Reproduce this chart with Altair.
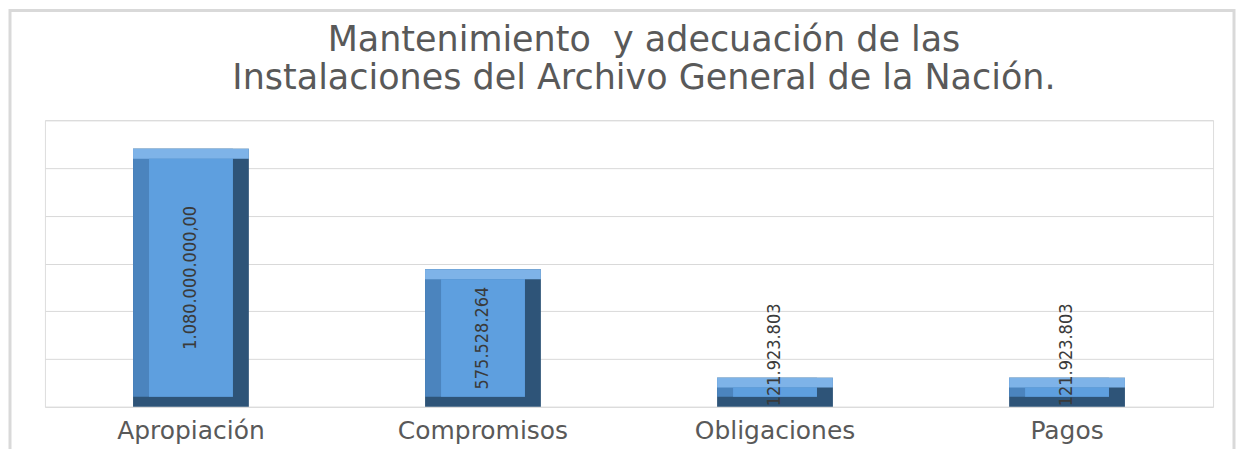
import altair as alt
import pandas as pd

categories = ["Apropiación", "Compromisos", "Obligaciones", "Pagos"]
values = [1080000000, 575528264, 121923803, 121923803]
value_labels = ["1.080.000.000,00", "575.528.264", "121.923.803", "121.923.803"]
title_lines = ["Mantenimiento\u00a0 y adecuación de las",
               "Instalaciones del Archivo General de la Nación."]
grid_ticks = [0, 200000000, 400000000, 600000000, 800000000, 1000000000, 1200000000]

df = pd.DataFrame({"cat": categories, "value": values, "label": value_labels})
# label centred in the bar, but kept readable for small bars
df["label_pos"] = [max(v / 2, 2.17e8) for v in values]

W, H = 1170, 287

x_enc = alt.X("cat:N", sort=categories, title=None,
              scale=alt.Scale(paddingInner=0.6, paddingOuter=0.3),
              axis=alt.Axis(domain=False, ticks=False, labelAngle=0,
                            labelFont="DejaVu Sans", labelFontSize=25,
                            labelColor="#595959", labelPadding=12))
y_scale = alt.Scale(domain=[0, 1200000000], nice=False)
y_enc = alt.Y("value:Q", title=None, scale=y_scale, stack=None,
              axis=alt.Axis(values=grid_ticks, labels=False, ticks=False,
                            domain=False, grid=True, gridColor="#D9D9D9",
                            gridWidth=1))

base = alt.Chart(df)
xs = alt.X("cat:N", sort=categories)
ys = alt.Y("value:Q", scale=y_scale, stack=None)
zero = alt.Y2(datum=0)

outer = base.mark_bar(size=116, color="#2E5478").encode(x=x_enc, y=y_enc, y2=zero)
left = base.mark_bar(size=100, xOffset=-8, y2Offset=-10, color="#4B84BE").encode(
    x=xs, y=ys, y2=zero)
top = base.mark_bar(size=116, y2Offset=10, color="#7EB3E8").encode(
    x=xs, y=ys, y2=alt.Y2("value:Q"))
face = base.mark_bar(size=84, yOffset=10, y2Offset=-10, color="#5E9FDF").encode(
    x=xs, y=ys, y2=zero)

labels = base.mark_text(angle=270, align="center", baseline="middle",
                        font="Liberation Sans Narrow, DejaVu Sans Condensed, Liberation Sans, sans-serif",
                        fontSize=18, color="#3A3A3A").encode(
    x=xs,
    y=alt.Y("label_pos:Q", scale=y_scale),
    text="label:N")

frame = alt.Chart(alt.Data(values=[{"f": 1}])).mark_rect(
    fillOpacity=0, stroke="#D9D9D9", strokeWidth=3).encode(
    x=alt.value(-35), x2=alt.value(1191), y=alt.value(-110), y2=alt.value(380))

chart = alt.layer(frame, outer, left, top, face, labels).properties(
    width=W, height=H,
    padding={"left": 0, "top": 0, "right": 5, "bottom": 0},
    title=alt.Title(title_lines, fontSize=35, font="DejaVu Sans",
                    fontWeight="normal", color="#595959", lineHeight=38,
                    anchor="middle", offset=-87, frame="group", dx=15),
).configure_view(stroke=None).configure(background="white")

chart.save("out.html", embed_options={"renderer": "svg", "actions": False})
